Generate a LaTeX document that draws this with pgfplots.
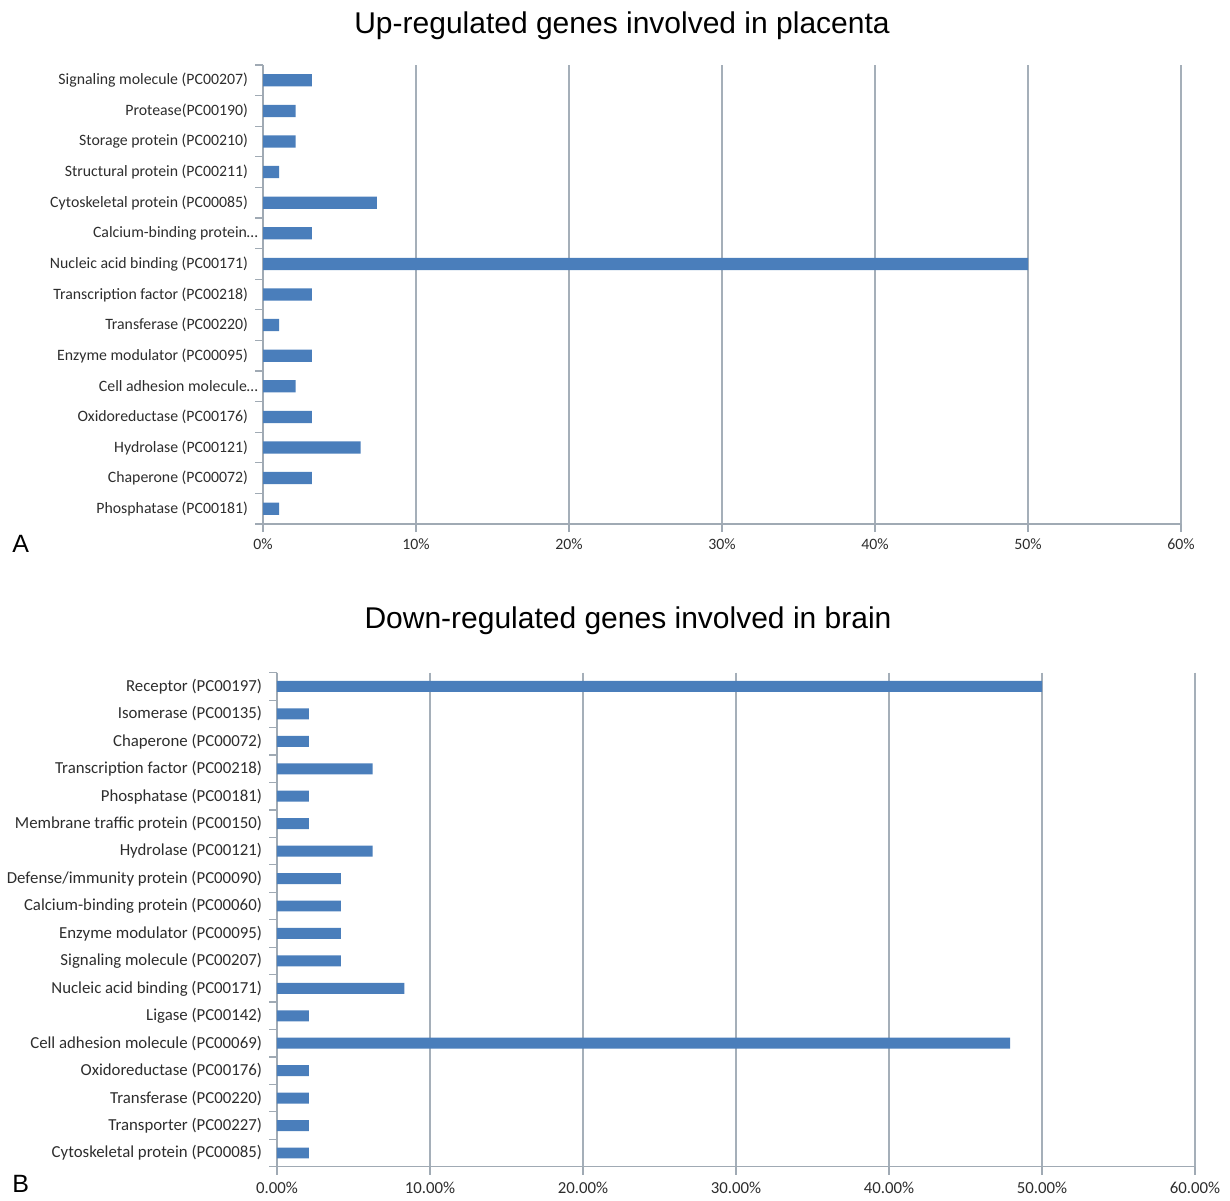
\documentclass[border=0pt]{standalone}
\usepackage{fontspec}
\usepackage{pgfplots}
\pgfplotsset{compat=1.18}
\setmainfont{Carlito}
\newfontfamily\arial{Liberation Sans}
\definecolor{barblue}{RGB}{74,126,187}
\definecolor{axisgray}{RGB}{160,170,180}
\definecolor{gridgray}{RGB}{165,175,185}
\definecolor{labelcol}{RGB}{45,45,45}
\pgfplotsset{mybar/.style={
  scale only axis, width=459pt, xbar, xmin=0, xmax=60,
  bar width=0.4, y dir=reverse,
  axis x line*=bottom, axis y line*=left,
  axis line style={draw=axisgray, line width=0.6pt, -},
  xmajorgrids, grid style={draw=gridgray, line width=0.55pt},
  xtick={0,10,...,60}, tick align=outside,
  major tick length=4pt, minor tick length=4pt,
  tick style={draw=axisgray, line width=0.6pt},
  major y tick style={draw=none},
  tick label style={font=\fontsize{7.9}{9}\selectfont, text=labelcol},
}}
\begin{document}
\begin{tikzpicture}[x=1pt,y=1pt]
\path (0,0) rectangle (615,-598.5);
\node[anchor=base, font=\arial\fontsize{15}{17}\selectfont] at (311,-16.65) {Up-regulated genes involved in placenta};
\node[anchor=base, font=\arial\fontsize{15}{17}\selectfont] at (314,-314) {Down-regulated genes involved in brain};
\node[anchor=base west, font=\arial\fontsize{12.5}{14}\selectfont, inner sep=0pt] at (6,-276) {A};
\node[anchor=base west, font=\arial\fontsize{12.5}{14}\selectfont, inner sep=0pt] at (6,-596) {B};
\begin{axis}[mybar, at={(131.5pt,-32.5pt)}, anchor=north west, height=229.5pt,
  ymin=-0.5, ymax=14.5,
  xticklabels={0\%,10\%,20\%,30\%,40\%,50\%,60\%},
  ytick={0,...,14},
  minor ytick={-0.5,0.5,...,14.5},
  yticklabels={Signaling molecule (PC00207),Protease(PC00190),Storage protein (PC00210),Structural protein (PC00211),Cytoskeletal protein (PC00085),Calcium-binding protein…\kern-5pt,Nucleic acid binding (PC00171),Transcription factor (PC00218),Transferase (PC00220),Enzyme modulator (PC00095),Cell adhesion molecule…\kern-5pt,Oxidoreductase (PC00176),Hydrolase (PC00121),Chaperone (PC00072),Phosphatase (PC00181)},
]
\addplot[fill=barblue, draw=none] coordinates {(3.19,0) (2.13,1) (2.13,2) (1.06,3) (7.45,4) (3.19,5) (50,6) (3.19,7) (1.06,8) (3.19,9) (2.13,10) (3.19,11) (6.38,12) (3.19,13) (1.06,14)};
\end{axis}
\begin{axis}[mybar, at={(138.5pt,-336.35pt)}, anchor=north west, height=247pt,
  ymin=-0.5, ymax=17.5,
  tick label style={font=\fontsize{8.4}{9.5}\selectfont, text=labelcol},
  xticklabels={0.00\%,10.00\%,20.00\%,30.00\%,40.00\%,50.00\%,60.00\%},
  ytick={0,...,17},
  minor ytick={-0.5,0.5,...,17.5},
  yticklabels={Receptor (PC00197),Isomerase (PC00135),Chaperone (PC00072),Transcription factor (PC00218),Phosphatase (PC00181),Membrane traffic protein (PC00150),Hydrolase (PC00121),Defense/immunity protein (PC00090),Calcium-binding protein (PC00060),Enzyme modulator (PC00095),Signaling molecule (PC00207),Nucleic acid binding (PC00171),Ligase (PC00142),Cell adhesion molecule (PC00069),Oxidoreductase (PC00176),Transferase (PC00220),Transporter (PC00227),Cytoskeletal protein (PC00085)},
]
\addplot[fill=barblue, draw=none] coordinates {(50,0) (2.08,1) (2.08,2) (6.25,3) (2.08,4) (2.08,5) (6.25,6) (4.17,7) (4.17,8) (4.17,9) (4.17,10) (8.33,11) (2.08,12) (47.92,13) (2.08,14) (2.08,15) (2.08,16) (2.08,17)};
\end{axis}
\end{tikzpicture}
\end{document}
